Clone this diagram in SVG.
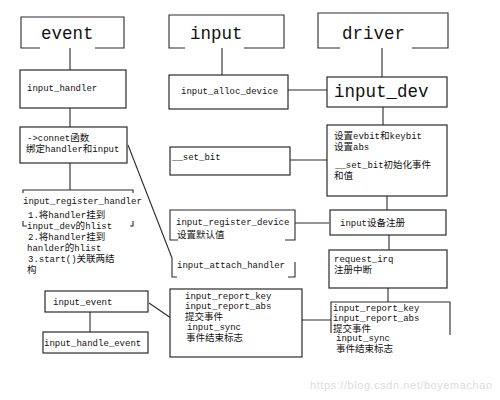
<svg xmlns="http://www.w3.org/2000/svg" width="500" height="400" viewBox="0 0 500 400">
<style>
.b{fill:#fff;stroke:#2a2a2a;stroke-width:1.2}
.l{fill:none;stroke:#2a2a2a;stroke-width:1.1}
text{font-family:"Liberation Mono","Noto Sans CJK SC",monospace;font-size:9px;fill:#111}
.h{font-size:17.5px;font-family:"Liberation Mono","DejaVu Serif",monospace}
.c{font-size:9.5px}
.wm{font-family:"Liberation Sans",sans-serif;font-size:11px;fill:#dcdcdc}
</style>
<rect width="500" height="400" fill="#fff"/>
<g id="connectors">
<path class="l" d="M70,48V70M70,108V127M70,163V190"/>
<path class="l" d="M222,48V75M288,90H327M290,160H327M295,223H329M302,320H331"/>
<path class="l" d="M382,48V77M383,107V125M387,196V210M389,235V250M388,288V302"/>
<path class="l" d="M90,312V332"/>
<path class="l" d="M128,145L172,258"/>
<path class="l" d="M149,303L184,327"/>
</g>
<g id="event">
<path class="l" d="M40,48H21V17H124V48H95"/>
<text class="h" x="41" y="39">event</text>
</g>
<g id="input">
<path class="l" d="M185,48H169V15H284V48H244"/>
<text class="h" x="190" y="39">input</text>
</g>
<g id="driver">
<path class="l" d="M340,48H318V13H448V48H412"/>
<text class="h" x="342" y="39">driver</text>
</g>
<g id="input_handler">
<rect class="b" x="20" y="70" width="106" height="38"/>
<text x="27" y="91">input_handler</text>
</g>
<g id="connect">
<rect class="b" x="20" y="127" width="107" height="36"/>
<text x="27" y="141">-&gt;connet<tspan class="c">函数</tspan></text>
<text x="26" y="152"><tspan class="c">绑定</tspan>handler<tspan class="c">和</tspan>input</text>
</g>
<g id="input_register_handler">
<path class="l" d="M23,193V190H133V193M23,221V226H27M130,226H133V221"/>
<text x="23" y="204">input_register_handler</text>
<text x="28" y="218">1.<tspan class="c">将</tspan>handler<tspan class="c">挂到</tspan></text>
<text x="27" y="229">input_dev<tspan class="c">的</tspan>hlist</text>
<text x="28" y="240">2.<tspan class="c">将</tspan>handler<tspan class="c">挂到</tspan></text>
<text x="27" y="251">hanlder<tspan class="c">的</tspan>hlist</text>
<text x="28" y="262">3.start()<tspan class="c">关联两结</tspan></text>
<text x="27" y="273" class="c">构</text>
</g>
<g id="input_alloc_device">
<rect class="b" x="169" y="75" width="119" height="34"/>
<text x="181" y="94">input_alloc_device</text>
</g>
<g id="set_bit">
<rect class="b" x="170" y="147" width="120" height="28"/>
<text x="172" y="160">__set_bit</text>
</g>
<g id="input_register_device">
<path class="l" d="M178,240H170V210H295V240H285"/>
<text x="176" y="225">input_register_device</text>
<text x="177" y="238" class="c">设置默认值</text>
</g>
<g id="input_attach_handler">
<path class="l" d="M172,258V277H177M288,277H295V262"/>
<text x="177" y="268">input_attach_handler</text>
</g>
<g id="report_mid">
<rect class="b" x="170" y="289" width="132" height="68"/>
<text x="185" y="299">input_report_key</text>
<text x="185" y="309">input_report_abs</text>
<text x="185" y="320" class="c">提交事件</text>
<text x="187" y="330">input_sync</text>
<text x="186" y="341" class="c">事件结束标志</text>
</g>
<g id="input_dev">
<rect class="b" x="327" y="77" width="120" height="30"/>
<text x="334" y="97" class="h">input_dev</text>
</g>
<g id="setup">
<rect class="b" x="327" y="125" width="120" height="71"/>
<text x="334" y="139"><tspan class="c">设置</tspan>evbit<tspan class="c">和</tspan>keybit</text>
<text x="334" y="150"><tspan class="c">设置</tspan>abs</text>
<text x="335" y="168">__set_bit<tspan class="c">初始化事件</tspan></text>
<text x="334" y="179" class="c">和值</text>
</g>
<g id="dev_register">
<rect class="b" x="330" y="210" width="116" height="25"/>
<text x="340" y="226">input<tspan class="c">设备注册</tspan></text>
</g>
<g id="request_irq">
<rect class="b" x="329" y="250" width="118" height="38"/>
<text x="334" y="262">request_irq</text>
<text x="334" y="273" class="c">注册中断</text>
</g>
<g id="report_right">
<path class="l" d="M331,333V302H450V335"/>
<text x="333" y="311">input_report_key</text>
<text x="333" y="321">input_report_abs</text>
<text x="333" y="332" class="c">提交事件</text>
<text x="336" y="341">input_sync</text>
<text x="336" y="352" class="c">事件结束标志</text>
</g>
<g id="input_event">
<rect class="b" x="45" y="291" width="103" height="21"/>
<text x="53" y="305">input_event</text>
</g>
<g id="input_handle_event">
<rect class="b" x="43" y="332" width="105" height="21"/>
<text x="44" y="346">input_handle_event</text>
</g>
<text class="wm" x="310" y="389" textLength="182">https://blog.csdn.net/boyemachao</text>
</svg>
